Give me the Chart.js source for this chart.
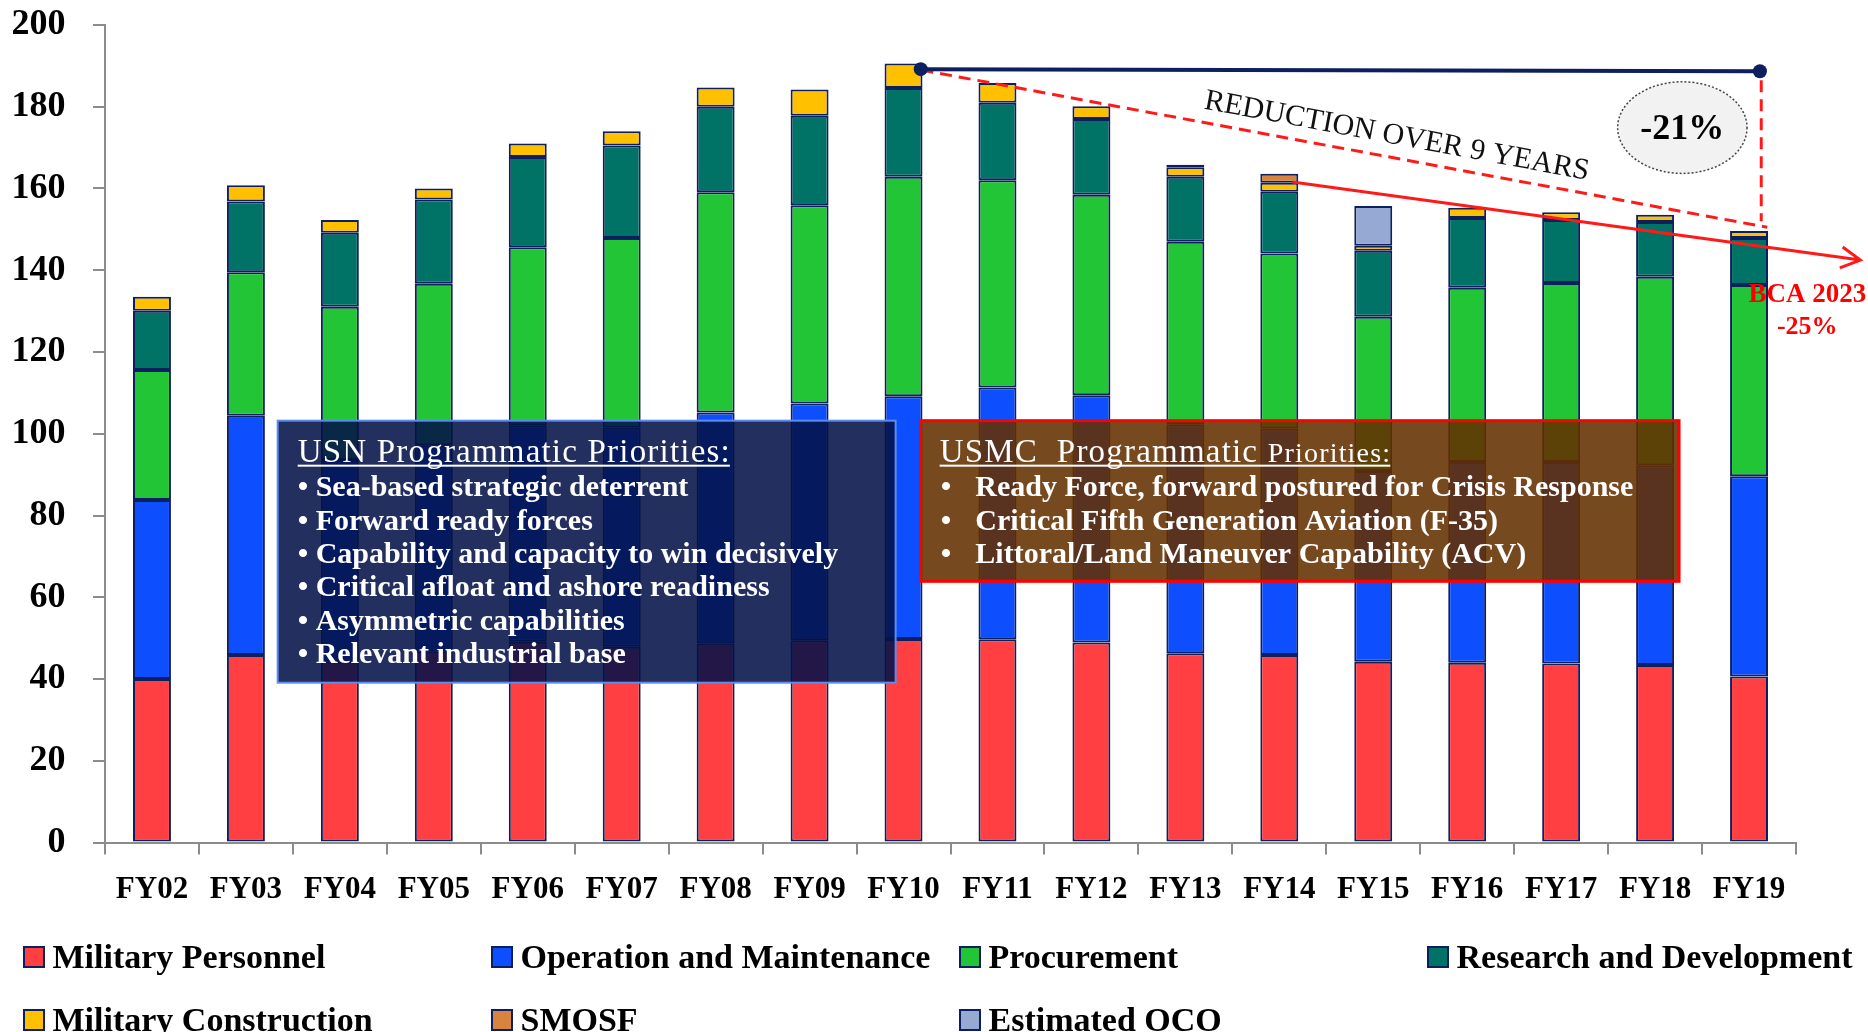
<!DOCTYPE html>
<html>
<head>
<meta charset="utf-8">
<script src="https://cdn.jsdelivr.net/npm/chart.js@4.4.1/dist/chart.umd.min.js"></script>
<style>
  html, body { margin: 0; padding: 0; background: #fff; }
  #wrap { width: 1868px; height: 1032px; }
</style>
</head>
<body>
<div id="wrap"><canvas id="budgetChart" width="1868" height="1032"></canvas></div>
<script>
// ---- DATA ($B) ----
const years = ['FY02', 'FY03', 'FY04', 'FY05', 'FY06', 'FY07', 'FY08', 'FY09', 'FY10',
               'FY11', 'FY12', 'FY13', 'FY14', 'FY15', 'FY16', 'FY17', 'FY18', 'FY19'];
const militaryPersonnel = [40.0, 45.9, 44.2, 46.7, 49.1, 47.9, 48.7, 49.5, 49.8, 49.7, 48.9, 46.3, 45.9, 44.2, 44.0, 43.8, 43.4, 40.6];
const operationMaintenance = [43.8, 58.5, 49.4, 50.5, 53.0, 53.6, 56.5, 57.9, 59.4, 61.6, 60.5, 56.0, 55.4, 46.7, 49.1, 49.3, 48.9, 49.0];
const procurement = [31.8, 35.1, 37.5, 39.5, 43.5, 46.4, 53.9, 48.5, 53.7, 50.7, 49.1, 44.7, 42.8, 37.7, 42.6, 43.8, 46.1, 46.8];
const researchDevelopment = [14.5, 17.3, 18.1, 20.6, 22.1, 22.6, 20.9, 21.9, 21.7, 19.0, 18.5, 15.9, 15.1, 16.2, 17.1, 15.4, 13.4, 11.5];
const militaryConstruction = [3.4, 4.0, 3.1, 2.7, 3.3, 3.5, 4.7, 6.4, 6.0, 4.8, 3.1, 2.3, 2.2, 1.2, 2.5, 1.9, 1.8, 1.7];
const smosf = [null, null, null, null, null, null, null, null, null, null, null, 0.6, 2.2, null, null, null, null, null];
const estimatedOco = [null, null, null, null, null, null, null, null, null, null, null, null, null, 9.7, null, null, null, null];
const yTicks = [0, 20, 40, 60, 80, 100, 120, 140, 160, 180, 200];

const seriesNames = ['Military Personnel', 'Operation and Maintenance', 'Procurement',
                     'Research and Development', 'Military Construction', 'SMOSF', 'Estimated OCO'];
const seriesValues = [militaryPersonnel, operationMaintenance, procurement, researchDevelopment,
                      militaryConstruction, smosf, estimatedOco];
const seriesColors = ['#ff3f42', '#0d4fff', '#22c535', '#007366', '#ffc000', '#d8843f', '#95a9d2'];

const usnTitle = 'USN Programmatic Priorities:';
const usnItems = ['Sea-based strategic deterrent', 'Forward ready forces',
                  'Capability and capacity to win decisively', 'Critical afloat and ashore readiness',
                  'Asymmetric capabilities', 'Relevant industrial base'];
const usmcTitle = ['USMC  Programmatic ', 'Priorities:'];
const usmcItems = ['Ready Force, forward postured for Crisis Response',
                   'Critical Fifth Generation Aviation (F-35)',
                   'Littoral/Land Maneuver Capability (ACV)'];

const serif = '"Liberation Serif", "Times New Roman", serif';
const navy = '#0c1f5e';
const axisGray = '#8c8c8c';

// ---- HELPERS ----
function dataPoint(chart, i, v) {
    return [chart.scales.x.getPixelForValue(i), chart.scales.y.getPixelForValue(v)];
}

function dot(ctx, x, y, r, color) {
    ctx.beginPath();
    ctx.arc(x, y, r, 0, Math.PI * 2);
    ctx.fillStyle = color;
    ctx.fill();
}

function textBox(ctx, x0, y0, x1, y1, fill, stroke, lw) {
    ctx.fillStyle = fill;
    ctx.fillRect(x0, y0, x1 - x0, y1 - y0);
    ctx.strokeStyle = stroke;
    ctx.lineWidth = lw;
    ctx.strokeRect(x0, y0, x1 - x0, y1 - y0);
}

// ---- ANNOTATIONS (drawn over the bars) ----
const annotationPlugin = {
    id: 'annotations',
    afterDatasetsDraw(chart) {
        const ctx = chart.ctx;
        ctx.save();

        // USN box
        let [bx0, by0] = dataPoint(chart, 1.338, 103.2);
        let [bx1, by1] = dataPoint(chart, 7.916, 39.1);
        textBox(ctx, bx0, by0, bx1, by1, 'rgba(4,18,73,0.88)', '#5b8cf0', 2);
        ctx.fillStyle = '#fff';
        ctx.textBaseline = 'alphabetic';
        ctx.textAlign = 'left';
        ctx.font = '33px ' + serif;
        ctx.letterSpacing = '1.2px';
        ctx.fillText(usnTitle, bx0 + 20, by0 + 41);
        let w = ctx.measureText(usnTitle).width;
        ctx.fillRect(bx0 + 20, by0 + 44, w - 1, 2);
        ctx.letterSpacing = '0px';
        ctx.font = 'bold 30px ' + serif;
        usnItems.forEach((t, k) => ctx.fillText('\u2022 ' + t, bx0 + 20, by0 + 75.5 + k * 33.4));

        // USMC box
        [bx0, by0] = dataPoint(chart, 8.182, 103.2);
        [bx1, by1] = dataPoint(chart, 16.255, 63.9);
        textBox(ctx, bx0, by0, bx1, by1, 'rgba(100,48,0,0.88)', '#ff0000', 3);
        ctx.fillStyle = '#fff';
        ctx.letterSpacing = '1.2px';
        ctx.font = '33px ' + serif;
        ctx.fillText(usmcTitle[0], bx0 + 19, by0 + 41);
        let w0 = ctx.measureText(usmcTitle[0]).width;
        ctx.font = '28px ' + serif;
        ctx.fillText(usmcTitle[1], bx0 + 19 + w0, by0 + 41);
        let w1 = ctx.measureText(usmcTitle[1]).width;
        ctx.fillRect(bx0 + 19, by0 + 44, w0 + w1 - 1, 2);
        ctx.letterSpacing = '0px';
        ctx.font = 'bold 30px ' + serif;
        usmcItems.forEach((t, k) => {
            ctx.fillText('\u2022', bx0 + 20, by0 + 75.2 + k * 33.8);
            ctx.fillText(t, bx0 + 54.7, by0 + 75.2 + k * 33.8);
        });

        // red dashed reduction lines
        const [dx0, dy0] = dataPoint(chart, 8.19, 189.0);
        const [dx1, dy1] = dataPoint(chart, 17.194, 150.5);
        ctx.strokeStyle = '#ff1a1a';
        ctx.lineWidth = 3;
        ctx.setLineDash([12, 7]);
        ctx.beginPath();
        ctx.moveTo(dx0, dy0);
        ctx.lineTo(dx1, dy1);
        const [vx, vy0] = dataPoint(chart, 17.13, 186.5);
        const [, vy1] = dataPoint(chart, 17.13, 152.0);
        ctx.moveTo(vx, vy0);
        ctx.lineTo(vx, vy1);
        ctx.stroke();
        ctx.setLineDash([]);

        // navy reference line with end dots
        const [nx0, ny0] = dataPoint(chart, 8.183, 189.2);
        const [nx1, ny1] = dataPoint(chart, 17.116, 188.7);
        ctx.strokeStyle = navy;
        ctx.lineWidth = 4;
        ctx.beginPath();
        ctx.moveTo(nx0, ny0);
        ctx.lineTo(nx1, ny1);
        ctx.stroke();
        dot(ctx, nx0, ny0, 7, navy);
        dot(ctx, nx1, ny1, 7, navy);

        // BCA trend arrow
        const [ax0, ay0] = dataPoint(chart, 12.14, 161.6);
        const [ax1, ay1] = dataPoint(chart, 18.185, 142.5);
        const ang = Math.atan2(ay1 - ay0, ax1 - ax0);
        ctx.strokeStyle = '#ff1a1a';
        ctx.lineWidth = 3;
        ctx.beginPath();
        ctx.moveTo(ax0, ay0);
        ctx.lineTo(ax1, ay1);
        ctx.moveTo(ax1 - 22 * Math.cos(ang - 0.5), ay1 - 22 * Math.sin(ang - 0.5));
        ctx.lineTo(ax1, ay1);
        ctx.lineTo(ax1 - 22 * Math.cos(ang + 0.5), ay1 - 22 * Math.sin(ang + 0.5));
        ctx.stroke();

        // rotated label along the dashed line
        const [tx, ty] = dataPoint(chart, 11.19, 179.6);
        ctx.save();
        ctx.translate(tx, ty);
        ctx.rotate(Math.atan2(dy1 - dy0, dx1 - dx0));
        ctx.fillStyle = '#111';
        ctx.font = '30px ' + serif;
        ctx.fillText('REDUCTION OVER 9 YEARS', 0, 0);
        ctx.restore();

        // -21% ellipse
        const [ex, ey] = dataPoint(chart, 16.29, 174.9);
        ctx.beginPath();
        ctx.ellipse(ex, ey, 64.7, 45.8, 0, 0, Math.PI * 2);
        ctx.fillStyle = '#f2f2f2';
        ctx.fill();
        ctx.setLineDash([2, 2]);
        ctx.strokeStyle = '#444';
        ctx.lineWidth = 1.5;
        ctx.stroke();
        ctx.setLineDash([]);
        ctx.fillStyle = '#000';
        ctx.textAlign = 'center';
        ctx.textBaseline = 'middle';
        ctx.font = 'bold 36px ' + serif;
        ctx.fillText('-21%', ex, ey + 2);

        // BCA 2023 label
        const [cx, cy0] = dataPoint(chart, 17.62, 132.3);
        const [, cy1] = dataPoint(chart, 17.62, 124.5);
        ctx.fillStyle = '#ff0000';
        ctx.textBaseline = 'alphabetic';
        ctx.font = 'bold 27px ' + serif;
        ctx.fillText('BCA 2023', cx, cy0);
        ctx.font = 'bold 26px ' + serif;
        ctx.fillText('-25%', cx, cy1);

        ctx.restore();
    }
};

// ---- LEGEND (two rows, four fixed columns) ----
const legendPlugin = {
    id: 'gridLegend',
    afterDraw(chart) {
        const ctx = chart.ctx;
        ctx.save();
        ctx.font = 'bold 34px ' + serif;
        ctx.textAlign = 'left';
        ctx.textBaseline = 'alphabetic';
        chart.data.datasets.forEach((ds, k) => {
            const col = k < 4 ? k : k - 4;
            const row = k < 4 ? 0 : 1;
            const x = 24 + col * 468;
            const y = 947 + row * 63;
            ctx.fillStyle = ds.backgroundColor;
            ctx.fillRect(x, y, 20, 20);
            ctx.strokeStyle = navy;
            ctx.lineWidth = 2;
            ctx.strokeRect(x, y, 20, 20);
            ctx.fillStyle = '#000';
            ctx.fillText(ds.label, x + 28.5, y + 20.5);
        });
        ctx.restore();
    }
};

// ---- CHART ----
const datasets = seriesNames.map((name, k) => ({
    label: name,
    data: seriesValues[k],
    backgroundColor: seriesColors[k],
    borderColor: navy,
    borderWidth: 2,
    borderSkipped: false,
    barPercentage: 0.404,
    categoryPercentage: 1.0
}));

new Chart(document.getElementById('budgetChart'), {
    type: 'bar',
    data: { labels: years, datasets: datasets },
    options: {
        responsive: false,
        animation: false,
        devicePixelRatio: 1,
        layout: { padding: { left: 0, top: 25, right: 72, bottom: 129.5 } },
        plugins: {
            legend: { display: false },
            tooltip: { enabled: false }
        },
        scales: {
            x: {
                stacked: true,
                grid: { offset: true, drawOnChartArea: false, drawTicks: true, tickLength: 12, color: axisGray, lineWidth: 2 },
                border: { display: true, color: axisGray, width: 2 },
                ticks: { color: '#000', font: { family: serif, size: 31, weight: 'bold' }, padding: 17, maxRotation: 0, autoSkip: false },
                afterFit: s => { s.height = 60; }
            },
            y: {
                stacked: true,
                min: 0,
                max: 200,
                afterBuildTicks: s => { s.ticks = yTicks.map(v => ({ value: v })); },
                ticks: { color: '#000', font: { family: serif, size: 36, weight: 'bold' }, padding: 27.5 },
                grid: { drawOnChartArea: false, tickLength: 12, color: axisGray, lineWidth: 2 },
                border: { display: true, color: axisGray, width: 2 },
                afterFit: s => { s.width = 105; s.paddingTop = 0; s.paddingBottom = 0; }
            }
        }
    },
    plugins: [annotationPlugin, legendPlugin]
});
</script>
</body>
</html>
